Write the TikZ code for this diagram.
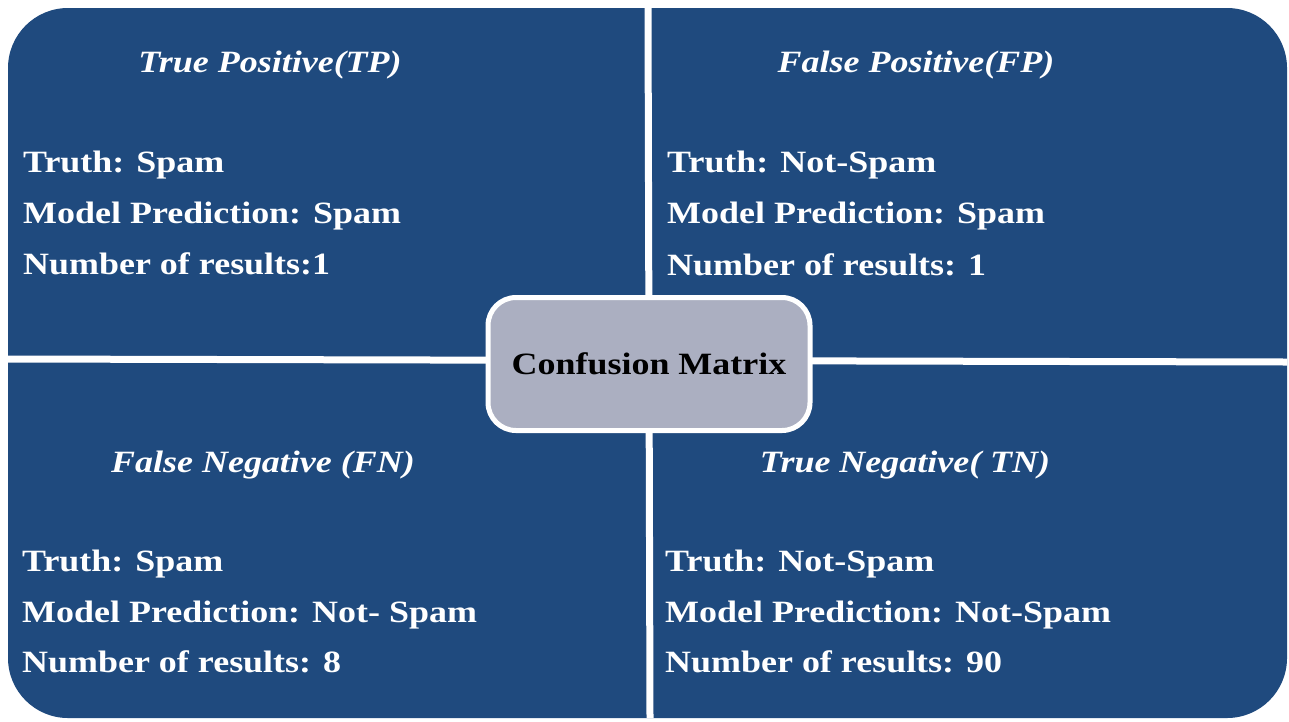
\documentclass[tikz,border=0pt]{standalone}
\usepackage{fontspec}
\setmainfont{Liberation Serif}[FakeStretch=1.16]
\usetikzlibrary{positioning}
\definecolor{cmblue}{HTML}{1F4A7E}
\definecolor{cmgray}{HTML}{ABAFC1}

\begin{document}
\begin{tikzpicture}[x=1pt, y=-1pt,
    title/.style={text=white, anchor=base, inner sep=0pt, font=\fontsize{31}{36}\selectfont\bfseries\itshape},
    entry/.style={text=white, anchor=base west, inner sep=0pt, font=\fontsize{31}{36}\selectfont\bfseries},
    hub/.style={draw=white, line width=5pt, fill=cmgray, rounded corners=28pt, minimum width=322pt, minimum height=133pt, font=\fontsize{31}{36}\selectfont\bfseries}]
  \useasboundingbox (0,0) rectangle (1289,721);

  % Outer panel and the white gaps between the four fields
  \fill[cmblue, rounded corners=60pt] (8,8) rectangle (1287,718);
  \coordinate (top) at (648,8);
  \coordinate (bottom) at (650,718);
  \coordinate (left) at (8,359);
  \coordinate (right) at (1287,362);
  \draw[white, line width=7pt] (top) -- (bottom);
  \draw[white, line width=7pt] (left) -- (right);

  % True positive
  \node[title] (tp) at (270,72) {True Positive(TP)};
  \node[entry] (tp1) at (23,172) {Truth: Spam};
  \node[entry] (tp2) at (23,223) {Model Prediction: Spam};
  \node[entry] (tp3) at (23,274) {Number of results:1};

  % False positive
  \node[title] (fp) at (916,72) {False Positive(FP)};
  \node[entry] (fp1) at (667,172) {Truth: Not-Spam};
  \node[entry] (fp2) at (667,223) {Model Prediction: Spam};
  \node[entry] (fp3) at (667,275) {Number of results: 1};

  % False negative
  \node[title] (fn) at (263,472) {False Negative (FN)};
  \node[entry] (fn1) at (22,571) {Truth: Spam};
  \node[entry] (fn2) at (22,622) {Model Prediction: Not- Spam};
  \node[entry] (fn3) at (22,672) {Number of results: 8};

  % True negative
  \node[title] (tn) at (905,472) {True Negative( TN)};
  \node[entry] (tn1) at (665,571) {Truth: Not-Spam};
  \node[entry] (tn2) at (665,622) {Model Prediction: Not-Spam};
  \node[entry] (tn3) at (665,672) {Number of results: 90};

  \node[hub] (cm) at (649,364) {Confusion Matrix};
\end{tikzpicture}
\end{document}
